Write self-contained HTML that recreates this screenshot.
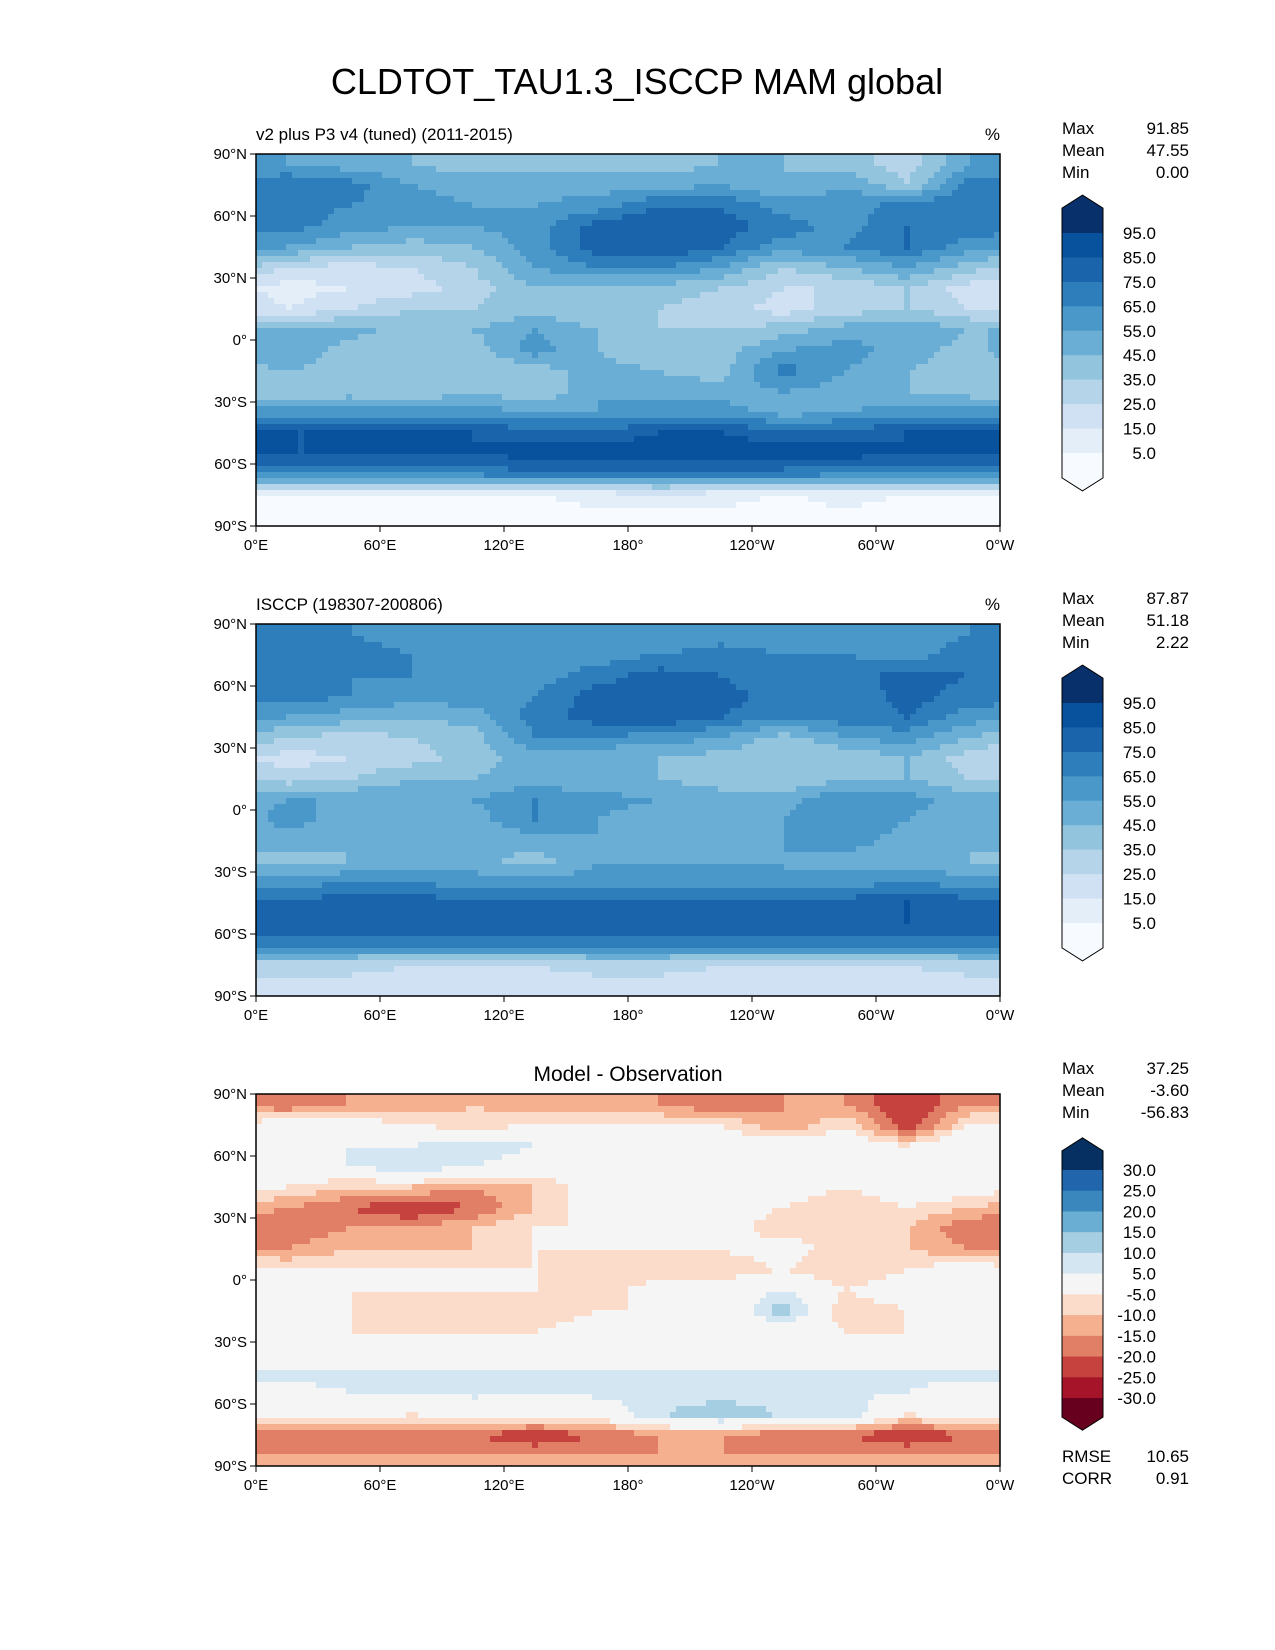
<!DOCTYPE html>
<html><head><meta charset="utf-8"><style>
body{margin:0;background:#fff;}
svg{display:block;font-family:"Liberation Sans","DejaVu Sans",sans-serif;}
</style></head><body>
<svg id="fig" width="1275" height="1650" viewBox="0 0 1275 1650">
<text x="637" y="94" font-size="36" text-anchor="middle">CLDTOT_TAU1.3_ISCCP MAM global</text>
</svg>
<script>
// ---- data (rows: 90N..90S in 10° bands, cols: 0E..360E in 30° sectors) ----
const latBands=[85,75,65,55,45,35,25,15,5,-5,-15,-25,-35,-45,-55,-65,-75,-85];
const lonSectors=[15,45,75,105,135,165,195,225,255,285,315,345];
const modelGrid=[
[55,50,45,40,40,40,40,45,45,40,30,55],
[75,70,55,50,50,50,50,55,45,55,35,70],
[70,65,60,55,55,60,75,75,60,60,70,75],
[70,60,55,55,60,80,85,80,70,60,75,70],
[55,45,40,45,60,80,85,75,60,65,75,60],
[25,20,25,35,55,65,65,55,35,45,55,40],
[10,15,20,30,45,40,40,35,25,25,35,20],
[15,25,35,35,40,35,35,30,20,30,35,25],
[45,50,40,45,55,45,35,35,40,50,55,45],
[55,40,35,40,60,45,35,40,55,60,50,40],
[45,40,35,35,40,50,45,40,70,55,45,40],
[35,40,35,45,35,55,50,50,55,50,45,40],
[60,60,60,60,55,55,60,60,50,55,60,60],
[85,85,85,85,80,80,85,85,80,80,85,85],
[85,85,85,85,90,90,90,90,90,90,85,85],
[65,65,65,65,75,75,75,75,70,65,65,65],
[4,4,4,4,4,8,10,8,4,8,4,4],
[3,3,3,3,3,3,3,3,3,3,3,3]];
const obsGrid=[
[65,65,60,55,55,55,55,60,60,55,60,65],
[75,70,65,60,60,60,65,70,65,65,60,70],
[75,65,65,60,60,70,80,75,65,70,80,75],
[70,65,60,60,65,80,85,80,70,65,80,70],
[55,50,45,50,70,80,85,75,65,70,75,60],
[35,30,35,40,65,65,60,55,40,55,60,45],
[20,25,30,40,50,45,45,40,35,35,45,30],
[30,35,45,45,50,45,45,40,35,45,45,35],
[55,55,50,55,65,60,55,50,50,65,60,50],
[60,50,45,50,65,55,45,45,55,65,55,45],
[50,45,45,45,50,55,50,45,55,60,50,45],
[40,45,45,50,40,55,55,55,55,50,50,45],
[60,65,65,60,60,60,60,60,55,60,65,60],
[80,80,80,80,80,80,80,80,80,80,85,80],
[80,80,85,85,85,85,80,80,80,80,85,85],
[70,70,70,70,70,70,70,70,70,70,70,70],
[30,30,25,25,25,30,30,25,25,25,25,30],
[20,20,20,20,20,20,20,20,20,20,20,20]];
const diffGrid=[
[-20,-15,-15,-10,-15,-15,-15,-20,-15,-15,-25,-15],
[0,0,-5,-8,-5,-5,-5,-5,-15,-5,-25,-5],
[0,5,5,10,5,0,0,0,0,0,-5,5],
[0,5,10,5,0,0,0,0,0,0,-5,0],
[-5,-10,-10,-15,-10,0,0,0,0,-5,0,0],
[-15,-20,-25,-20,-10,0,0,0,-5,-10,-5,-10],
[-20,-15,-15,-10,-5,-5,-5,0,-10,-5,-10,-20],
[-15,-10,-10,-10,-5,-5,-5,-5,0,-10,-10,-15],
[-5,-5,-5,-5,-5,-10,-10,-10,-5,-10,-5,0],
[-5,-5,-5,-5,-5,-10,0,0,5,-5,0,0],
[-5,-5,-10,-5,-10,-5,-5,-5,15,-10,-5,-5],
[-5,-5,-5,-5,-5,0,-5,-5,0,-5,-5,-5],
[0,0,0,0,0,0,0,0,0,0,0,0],
[7,6,6,7,6,6,7,7,6,6,6,6],
[3,5,5,6,5,6,6,7,6,6,5,3],
[0,0,-5,0,0,0,10,15,10,10,-5,0],
[-20,-20,-20,-20,-25,-20,-15,-15,-20,-20,-25,-20],
[-15,-15,-15,-15,-15,-15,-15,-15,-15,-15,-15,-15]];
const absLevels=[0,5,15,25,35,45,55,65,75,85,95,100];
const absColors=['#f7fbff','#e3eef9','#cfe1f2','#b5d4e9','#93c4de','#6aaed6','#4a98c9','#2f7ebc','#1964ab','#08519c','#08306b'];
const absTickLabels=['95.0','85.0','75.0','65.0','55.0','45.0','35.0','25.0','15.0','5.0'];
const diffLevels=[-35,-30,-25,-20,-15,-10,-5,5,10,15,20,25,30,35];
const diffColors=['#67001f','#a51429','#c6423f','#e17f66','#f5b090','#fbdbca','#f5f5f5','#d4e6f1','#a6cee3','#6aaed3','#3a87bd','#2166ac','#053061'];
const diffTickLabels=['30.0','25.0','20.0','15.0','10.0','5.0','-5.0','-10.0','-15.0','-20.0','-25.0','-30.0'];
const lonTickLabels=['0°E','60°E','120°E','180°','120°W','60°W','0°W'];
const latTickLabels=['90°N','60°N','30°N','0°','30°S','60°S','90°S'];
const panelStats=[['91.85','47.55','0.00'],['87.87','51.18','2.22'],['37.25','-3.60','-56.83']];

const NS='http://www.w3.org/2000/svg';
const svg=document.getElementById('fig');
function el(tag,attrs,parent){const e=document.createElementNS(NS,tag);for(const k in attrs)e.setAttribute(k,attrs[k]);(parent||svg).appendChild(e);return e;}
function txt(x,y,s,size,anchor,parent){const t=el('text',{x:x,y:y,'font-size':size,'text-anchor':anchor||'start'},parent);t.textContent=s;return t;}

const MX=256,MW=744,MH=372;
function xOf(lon){return MX+lon/360*MW;}
function sample(grid,lat,lon){
  let fi=(85-lat)/10; fi=Math.max(0,Math.min(17,fi));
  const i0=Math.floor(fi),i1=Math.min(17,i0+1),ti=fi-i0;
  let fj=(lon-15)/30; const j0=Math.floor(fj),tj=fj-j0;
  const ja=((j0%12)+12)%12,jb=(ja+1)%12;
  const a=grid[i0][ja]*(1-tj)+grid[i0][jb]*tj;
  const b=grid[i1][ja]*(1-tj)+grid[i1][jb]*tj;
  return a*(1-ti)+b*ti;
}
function colorFor(v,levels,colors){
  for(let k=1;k<levels.length-1;k++){if(v<levels[k])return colors[k-1];}
  return colors[colors.length-1];
}

function drawPanel(idx,top,grid,levels,colors,ticks,title,unit){
  const g=el('g',{});
  
  
  const yOf=lat=>top+(90-lat)/180*MH;
  const cell=6;
  for(let y=0;y<MH;y+=cell){
    for(let x=0;x<MW;x+=cell){
      const lat=90-(y+cell/2)/MH*180, lon=(x+cell/2)/MW*360;
      const v=sample(grid,lat,lon);
      const r=el('rect',{x:MX+x,y:top+y,width:cell+0.5,height:Math.min(cell+0.5,MH-y),fill:colorFor(v,levels,colors)},g);
      
      
    }
  }
  const fr=el('rect',{x:MX,y:top,width:MW,height:MH,fill:'none',stroke:'#000','stroke-width':1.5},g);
  
  
  lonTickLabels.forEach((s,k)=>{
    const x=xOf(k*60);
    el('line',{x1:x,x2:x,y1:top+MH,y2:top+MH+6,stroke:'#000'},g);
    const t=txt(x,top+MH+24,s,15,'middle',g);
    
    
  });
  latTickLabels.forEach((s,k)=>{
    const y=yOf(90-k*30);
    el('line',{x1:MX-6,x2:MX,y1:y,y2:y,stroke:'#000'},g);
    const t=txt(MX-9,y+5,s,15,'end',g);
    
    
  });
  if(idx<2){
    const t=txt(MX,top-14,title,17,'start',g);
    
    
    const u=txt(MX+MW,top-14,unit,17,'end',g);
    
    
  } else {
    const t=txt(MX+MW/2,top-13,title,21,'middle',g);
    
    
  }
  const st=panelStats[idx];
  ['Max','Mean','Min'].forEach((n,k)=>{
    const a=txt(1062,top-20+k*22,n,17,'start',g);
    
    
    const b=txt(1189,top-20+k*22,st[k],17,'end',g);
    
    
  });
  const cb=el('g',{},g);
  
  
  const nInner=ticks.length-1;
  const cbTop=idx<2?top+79:top+76, cbBot=idx<2?top+299:top+304;
  const seg=(cbBot-cbTop)/nInner;
  const cx0=1062,cx1=1103,cm=(cx0+cx1)/2,ext=seg*1.55,tri=13;
  const n=colors.length;
  el('polygon',{points:`${cx0},${cbTop} ${cx0},${cbTop-ext+tri} ${cm},${cbTop-ext} ${cx1},${cbTop-ext+tri} ${cx1},${cbTop}`,fill:colors[n-1]},cb);
  for(let k=0;k<nInner;k++){
    const r=el('rect',{x:cx0,y:cbTop+k*seg,width:cx1-cx0,height:seg+0.5,fill:colors[n-2-k]},cb);
    
    
  }
  el('polygon',{points:`${cx0},${cbBot} ${cx0},${cbBot+ext-tri} ${cm},${cbBot+ext} ${cx1},${cbBot+ext-tri} ${cx1},${cbBot}`,fill:colors[0]},cb);
  el('polygon',{points:`${cx0},${cbTop} ${cx0},${cbTop-ext+tri} ${cm},${cbTop-ext} ${cx1},${cbTop-ext+tri} ${cx1},${cbTop} ${cx1},${cbBot} ${cx1},${cbBot+ext-tri} ${cm},${cbBot+ext} ${cx0},${cbBot+ext-tri} ${cx0},${cbBot}`,fill:'none',stroke:'#000','stroke-width':1},cb);
  ticks.forEach((s,k)=>{
    const t=txt(1156,cbTop+k*seg+6,s,17,'end',cb);
    
    
  });
  if(idx===2){
    [['RMSE','10.65'],['CORR','0.91']].forEach((p,k)=>{
      const a=txt(1062,top+MH-4+k*22,p[0],17,'start',g);
      
      
      const b=txt(1189,top+MH-4+k*22,p[1],17,'end',g);
      
      
    });
  }
}
drawPanel(0,154,modelGrid,absLevels,absColors,absTickLabels,'v2 plus P3 v4 (tuned) (2011-2015)','%');
drawPanel(1,624,obsGrid,absLevels,absColors,absTickLabels,'ISCCP (198307-200806)','%');
drawPanel(2,1094,diffGrid,diffLevels,diffColors,diffTickLabels,'Model - Observation','');
</script>
</body></html>
